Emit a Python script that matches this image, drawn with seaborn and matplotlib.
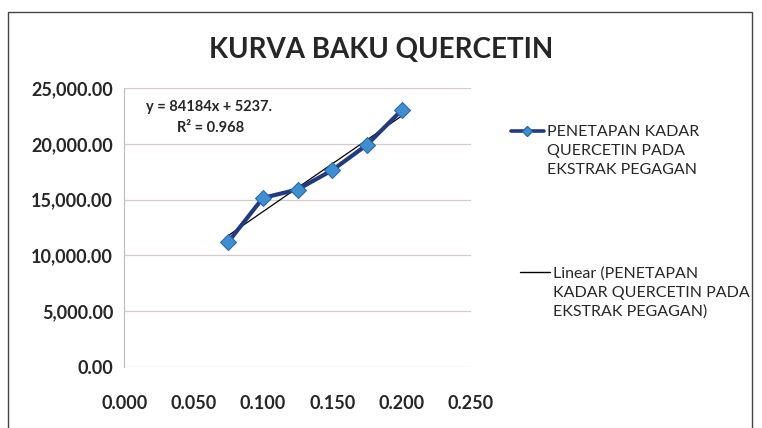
import numpy as np
import pandas as pd
import matplotlib
matplotlib.use("Agg")
import matplotlib.pyplot as plt
import seaborn as sns
from matplotlib.patches import Rectangle

# data
konsentrasi = [0.075, 0.100, 0.125, 0.150, 0.175, 0.200]
absorbansi = [11200, 15150, 15900, 17630, 19900, 23000]
x_ticks = [0.000, 0.050, 0.100, 0.150, 0.200, 0.250]
y_ticks = [0, 5000, 10000, 15000, 20000, 25000]
series_label = "PENETAPAN KADAR\nQUERCETIN PADA\nEKSTRAK PEGAGAN"
trend_label = "Linear (PENETAPAN\nKADAR QUERCETIN PADA\nEKSTRAK PEGAGAN)"

df = pd.DataFrame({"x": konsentrasi, "y": absorbansi})

sns.set_style("white")
plt.rcParams["font.family"] = ["Lato", "DejaVu Sans"]

fig = plt.figure(figsize=(7.62, 4.28), dpi=100)
ax = fig.add_axes([0.163, 0.1425, 0.455, 0.652])

# chart border
fig.patches.append(Rectangle((0.011, -0.01), 0.976, 0.982, transform=fig.transFigure,
                             fill=False, edgecolor="#444444", linewidth=1.0))

sns.regplot(data=df, x="x", y="y", scatter=False, ci=None, ax=ax,
            line_kws={"color": "black", "linewidth": 0.9}, truncate=True)
sns.lineplot(data=df, x="x", y="y", ax=ax, color="#1f3b82", linewidth=3.0,
             marker="D", markersize=8, markerfacecolor="#3f8fd0",
             markeredgecolor="#2a66b0")

ax.set_xlim(0, 0.25)
ax.set_ylim(0, 25000)
ax.set_xticks(x_ticks)
ax.set_yticks(y_ticks)
ax.set_xticklabels([f"{v:.3f}" for v in x_ticks], fontsize=13, fontweight="bold")
ax.set_yticklabels([f"{v:,.2f}" for v in y_ticks], fontsize=13, fontweight="bold")
ax.tick_params(axis="y", length=0, pad=8)
ax.tick_params(axis="x", length=0, pad=20)
ax.set_xlabel("")
ax.set_ylabel("")
ax.yaxis.grid(True, color="#d9c8c8", linewidth=0.9)
ax.xaxis.grid(False)
for s in ["top", "right", "bottom"]:
    ax.spines[s].set_visible(False)
ax.spines["left"].set_color("#bbbbbb")
ax.spines["left"].set_linewidth(0.8)

ax.text(0.062, 0.93, "y = 84184x + 5237.", transform=ax.transAxes,
        fontsize=10.5, fontweight="bold", va="center")
ax.text(0.152, 0.855, "R² = 0.968", transform=ax.transAxes,
        fontsize=10.5, fontweight="bold", va="center")

fig.text(0.5, 0.884, "KURVA BAKU QUERCETIN", ha="center", va="center",
         fontsize=20, fontweight="bold")

# legend drawn by hand to mimic the Excel layout
fig.add_artist(plt.Line2D([0.670, 0.692, 0.714], [0.694, 0.694, 0.694],
                          color="#1f3b82", linewidth=2.6, marker="D", markersize=5,
                          markevery=[1], markerfacecolor="#3f8fd0",
                          markeredgecolor="#2a66b0", transform=fig.transFigure))
fig.text(0.718, 0.708, series_label, fontsize=11.5, va="top", ha="left",
         linespacing=1.45)
fig.add_artist(plt.Line2D([0.683, 0.722], [0.364, 0.364], color="black",
                          linewidth=1.0, transform=fig.transFigure))
fig.text(0.726, 0.378, trend_label, fontsize=11.5, va="top", ha="left",
         linespacing=1.45)

fig.savefig("out.png", dpi=100)
